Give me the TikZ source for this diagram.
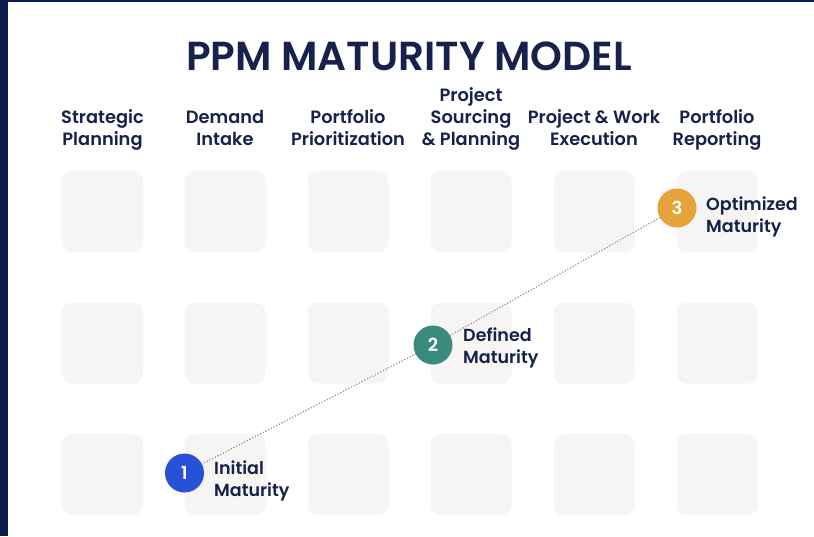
\documentclass[tikz,border=0pt]{standalone}
\usepackage{fontspec}
\setmainfont{Poppins}[BoldFont={Poppins SemiBold}]
\definecolor{navy}{HTML}{0B1A4C}
\definecolor{inkblue}{HTML}{16214C}
\definecolor{cellgray}{HTML}{F6F5F3}
\definecolor{lvlblue}{HTML}{2752D8}
\definecolor{lvlteal}{HTML}{3A8B7D}
\definecolor{lvlorange}{HTML}{E5A33A}

\begin{document}
\begin{tikzpicture}[x=1pt,y=-1pt,
  cell/.style={fill=cellgray,rounded corners=10pt,minimum width=81pt,minimum height=81pt,inner sep=0pt},
  head/.style={color=inkblue,font=\fontsize{17.8}{22}\selectfont\bfseries,align=center,inner sep=0pt,anchor=base},
  level/.style={circle,inner sep=0pt,minimum size=39pt,text=white,font=\fontsize{18}{20}\selectfont\bfseries},
  lvltext/.style={color=inkblue,font=\fontsize{17.5}{22}\selectfont\bfseries,align=left,inner sep=0pt,anchor=west}]
\useasboundingbox (0,0) rectangle (814,536);
\fill[white] (0,0) rectangle (814,536);
\fill[navy] (0,0) rectangle (8,536);
\fill[navy] (0,0) rectangle (814,2);

\node (title) at (409,70) [anchor=base,color=inkblue,font=\fontsize{40.5}{48}\selectfont\bfseries]{PPM MATURITY MODEL};

\node (h1) at (102.5,145) [head]{Strategic\\Planning};
\node (h2) at (225,145) [head]{Demand\\Intake};
\node (h3) at (348,145) [head]{Portfolio\\Prioritization};
\node (h4) at (471,145) [head]{Project\\Sourcing\\\& Planning};
\node (h5) at (594,145) [head]{Project \& Work\\Execution};
\node (h6) at (717,145) [head]{Portfolio\\Reporting};

\node (b11) at (102.5,211.5) [cell]{};
\node (b12) at (225,211.5) [cell]{};
\node (b13) at (348,211.5) [cell]{};
\node (b14) at (471,211.5) [cell]{};
\node (b15) at (594,211.5) [cell]{};
\node (b16) at (717,211.5) [cell]{};
\node (b21) at (102.5,343) [cell]{};
\node (b22) at (225,343) [cell]{};
\node (b23) at (348,343) [cell]{};
\node (b24) at (471,343) [cell]{};
\node (b25) at (594,343) [cell]{};
\node (b26) at (717,343) [cell]{};
\node (b31) at (102.5,474.5) [cell]{};
\node (b32) at (225,474.5) [cell]{};
\node (b33) at (348,474.5) [cell]{};
\node (b34) at (471,474.5) [cell]{};
\node (b35) at (594,474.5) [cell]{};
\node (b36) at (717,474.5) [cell]{};

\node (c1) at (184.5,473) [level,fill=lvlblue]{1};
\node (c2) at (433,345) [level,fill=lvlteal]{2};
\node (c3) at (677,208) [level,fill=lvlorange]{3};

\draw[color=black!45,line width=1.6pt,line cap=round,dash pattern=on 0pt off 3pt] (c1) -- (c2);
\draw[color=black!45,line width=1.6pt,line cap=round,dash pattern=on 0pt off 3pt] (c2) -- (c3);

\node (l1) at (214,481) [lvltext]{Initial\\Maturity};
\node (l2) at (463,348) [lvltext]{Defined\\Maturity};
\node (l3) at (706,217) [lvltext]{Optimized\\Maturity};
\end{tikzpicture}
\end{document}
